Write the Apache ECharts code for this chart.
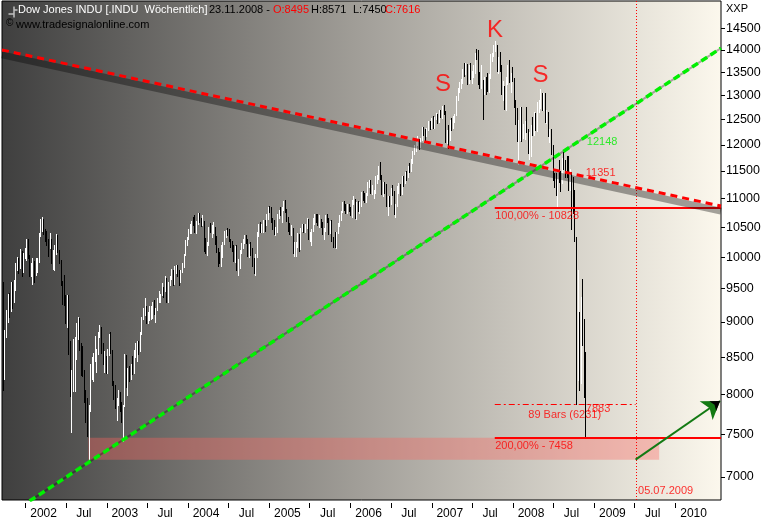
<!DOCTYPE html>
<html><head><meta charset="utf-8">
<script src="https://cdn.jsdelivr.net/npm/echarts@6/dist/echarts.min.js"></script>
<style>html,body{margin:0;padding:0;background:#fff}#c{width:769px;height:520px}</style>
</head><body><div id="c"></div><script>
// ---------------- DATA ----------------
const weeks = [
'2001-09-21','2001-09-28','2001-10-05','2001-10-12','2001-10-19','2001-10-26','2001-11-02','2001-11-09','2001-11-16','2001-11-23','2001-11-30','2001-12-07','2001-12-14','2001-12-21','2001-12-28',
'2002-01-04','2002-01-11','2002-01-18','2002-01-25','2002-02-01','2002-02-08','2002-02-15','2002-02-22','2002-03-01','2002-03-08','2002-03-15','2002-03-22','2002-03-29','2002-04-05','2002-04-12','2002-04-19','2002-04-26','2002-05-03','2002-05-10','2002-05-17','2002-05-24','2002-05-31','2002-06-07','2002-06-14','2002-06-21','2002-06-28','2002-07-05','2002-07-12','2002-07-19','2002-07-26','2002-08-02','2002-08-09','2002-08-16','2002-08-23','2002-08-30','2002-09-06','2002-09-13','2002-09-20','2002-09-27','2002-10-04','2002-10-11','2002-10-18','2002-10-25','2002-11-01','2002-11-08','2002-11-15','2002-11-22','2002-11-29','2002-12-06','2002-12-13','2002-12-20','2002-12-27',
'2003-01-03','2003-01-10','2003-01-17','2003-01-24','2003-01-31','2003-02-07','2003-02-14','2003-02-21','2003-02-28','2003-03-07','2003-03-14','2003-03-21','2003-03-28','2003-04-04','2003-04-11','2003-04-18','2003-04-25','2003-05-02','2003-05-09','2003-05-16','2003-05-23','2003-05-30','2003-06-06','2003-06-13','2003-06-20','2003-06-27','2003-07-04','2003-07-11','2003-07-18','2003-07-25','2003-08-01','2003-08-08','2003-08-15','2003-08-22','2003-08-29','2003-09-05','2003-09-12','2003-09-19','2003-09-26','2003-10-03','2003-10-10','2003-10-17','2003-10-24','2003-10-31','2003-11-07','2003-11-14','2003-11-21','2003-11-28','2003-12-05','2003-12-12','2003-12-19','2003-12-26',
'2004-01-02','2004-01-09','2004-01-16','2004-01-23','2004-01-30','2004-02-06','2004-02-13','2004-02-20','2004-02-27','2004-03-05','2004-03-12','2004-03-19','2004-03-26','2004-04-02','2004-04-09','2004-04-16','2004-04-23','2004-04-30','2004-05-07','2004-05-14','2004-05-21','2004-05-28','2004-06-04','2004-06-11','2004-06-18','2004-06-25','2004-07-02','2004-07-09','2004-07-16','2004-07-23','2004-07-30','2004-08-06','2004-08-13','2004-08-20','2004-08-27','2004-09-03','2004-09-10','2004-09-17','2004-09-24','2004-10-01','2004-10-08','2004-10-15','2004-10-22','2004-10-29','2004-11-05','2004-11-12','2004-11-19','2004-11-26','2004-12-03','2004-12-10','2004-12-17','2004-12-24','2004-12-31',
'2005-01-07','2005-01-14','2005-01-21','2005-01-28','2005-02-04','2005-02-11','2005-02-18','2005-02-25','2005-03-04','2005-03-11','2005-03-18','2005-03-25','2005-04-01','2005-04-08','2005-04-15','2005-04-22','2005-04-29','2005-05-06','2005-05-13','2005-05-20','2005-05-27','2005-06-03','2005-06-10','2005-06-17','2005-06-24','2005-07-01','2005-07-08','2005-07-15','2005-07-22','2005-07-29','2005-08-05','2005-08-12','2005-08-19','2005-08-26','2005-09-02','2005-09-09','2005-09-16','2005-09-23','2005-09-30','2005-10-07','2005-10-14','2005-10-21','2005-10-28','2005-11-04','2005-11-11','2005-11-18','2005-11-25','2005-12-02','2005-12-09','2005-12-16','2005-12-23','2005-12-30',
'2006-01-06','2006-01-13','2006-01-20','2006-01-27','2006-02-03','2006-02-10','2006-02-17','2006-02-24','2006-03-03','2006-03-10','2006-03-17','2006-03-24','2006-03-31','2006-04-07','2006-04-14','2006-04-21','2006-04-28','2006-05-05','2006-05-12','2006-05-19','2006-05-26','2006-06-02','2006-06-09','2006-06-16','2006-06-23','2006-06-30','2006-07-07','2006-07-14','2006-07-21','2006-07-28','2006-08-04','2006-08-11','2006-08-18','2006-08-25','2006-09-01','2006-09-08','2006-09-15','2006-09-22','2006-09-29','2006-10-06','2006-10-13','2006-10-20','2006-10-27','2006-11-03','2006-11-10','2006-11-17','2006-11-24','2006-12-01','2006-12-08','2006-12-15','2006-12-22','2006-12-29',
'2007-01-05','2007-01-12','2007-01-19','2007-01-26','2007-02-02','2007-02-09','2007-02-16','2007-02-23','2007-03-02','2007-03-09','2007-03-16','2007-03-23','2007-03-30','2007-04-06','2007-04-13','2007-04-20','2007-04-27','2007-05-04','2007-05-11','2007-05-18','2007-05-25','2007-06-01','2007-06-08','2007-06-15','2007-06-22','2007-06-29','2007-07-06','2007-07-13','2007-07-20','2007-07-27','2007-08-03','2007-08-10','2007-08-17','2007-08-24','2007-08-31','2007-09-07','2007-09-14','2007-09-21','2007-09-28','2007-10-05','2007-10-12','2007-10-19','2007-10-26','2007-11-02','2007-11-09','2007-11-16','2007-11-23','2007-11-30','2007-12-07','2007-12-14','2007-12-21','2007-12-28',
'2008-01-04','2008-01-11','2008-01-18','2008-01-25','2008-02-01','2008-02-08','2008-02-15','2008-02-22','2008-02-29','2008-03-07','2008-03-14','2008-03-21','2008-03-28','2008-04-04','2008-04-11','2008-04-18','2008-04-25','2008-05-02','2008-05-09','2008-05-16','2008-05-23','2008-05-30','2008-06-06','2008-06-13','2008-06-20','2008-06-27','2008-07-04','2008-07-11','2008-07-18','2008-07-25','2008-08-01','2008-08-08','2008-08-15','2008-08-22','2008-08-29','2008-09-05','2008-09-12','2008-09-19','2008-09-26','2008-10-03','2008-10-10','2008-10-17','2008-10-24','2008-10-31','2008-11-07','2008-11-14','2008-11-21'
];
const opens = [
9605,8236,8848,9120,9344,9205,9545,9324,9608,9867,9960,9851,10049,9811,10035,
10136,10259,10023,9771,9840,9907,9744,9904,9968,10368,10572,10608,10427,10404,10271,10190,10257,9910,10006,10110,10353,10105,9925,9589,9474,9253,9243,9380,8684,8019,8264,8313,8745,8778,9053,8664,8428,8312,7986,7701,7528,7850,8322,8444,8517,8537,8579,8805,8896,8645,8433,8511,
8303,8601,8785,8586,8131,8053,7864,7908,8018,7891,7740,7859,8522,8145,8277,8221,8337,8306,8582,8604,8713,8601,8850,9062,9117,9200,9011,9070,9119,9189,9285,9153,9191,9321,9348,9416,9503,9471,9645,9313,9572,9674,9721,9583,9801,9810,9768,9629,9782,9863,10042,10278,
10305,10409,10458,10600,10568,10488,10593,10628,10620,10584,10596,10240,10186,10213,10470,10442,10452,10472,10226,10118,10012,9967,10188,10242,10410,10416,10372,10283,10214,10140,9962,10140,9815,9825,10110,10195,10260,10314,10284,10047,10192,10055,9933,9758,10027,10387,10539,10456,10522,10592,10543,10649,10828,
10783,10603,10558,10393,10427,10716,10796,10785,10841,10941,10774,10630,10442,10404,10461,10088,10157,10193,10345,10140,10471,10542,10460,10512,10623,10297,10303,10449,10640,10651,10641,10558,10600,10559,10397,10447,10678,10641,10419,10569,10292,10287,10215,10402,10530,10686,10766,10931,10877,10778,10875,10833,
10718,10959,10960,10667,10907,10793,10919,11115,11061,11021,11076,11279,11280,11109,11120,11137,11347,11367,11577,11380,11144,11278,11247,10891,11014,10989,11150,11091,10739,10868,11219,11240,11088,11381,11284,11464,11392,11560,11508,11679,11850,11961,12002,12090,11987,12108,12343,12280,12194,12307,12445,12343,
12463,12398,12556,12565,12487,12653,12580,12768,12647,12114,12276,12110,12481,12354,12560,12612,12961,13120,13264,13326,13556,13507,13668,13424,13639,13360,13409,13611,13907,13851,13266,13182,13240,13079,13379,13358,13113,13443,13821,13896,14066,14093,13522,13807,13595,13043,13176,12980,13372,13625,13339,13450,
13366,12800,12606,12099,12207,12743,12183,12348,12381,12266,11894,11951,12361,12216,12610,12325,12849,12891,13058,12745,12986,12480,12638,12210,12307,11843,11346,11288,11100,11496,11371,11326,11734,11659,11628,11543,11220,11421,11388,11143,10325,8451,8852,8378,9325,8943,8495
];
const highs = [
9605,8880,9180,9420,9430,9600,9600,9640,9900,10000,9990,10140,10100,10060,10150,
10290,10300,10040,9900,9980,9930,9990,9990,10400,10640,10673,10640,10460,10440,10300,10400,10300,10120,10200,10380,10360,10120,9960,9620,9720,9400,9400,9400,8730,8330,8760,8780,8990,9080,9060,8700,8650,8320,8060,7950,7860,8400,8500,8560,8800,8620,8850,8950,8920,8700,8580,8520,
8610,8820,8850,8600,8180,8130,7960,8060,8030,7910,7870,8540,8530,8350,8380,8400,8510,8600,8700,8720,8730,8860,9080,9200,9350,9230,9150,9240,9230,9300,9330,9200,9350,9470,9420,9590,9520,9690,9660,9600,9700,9810,9800,9850,9870,9880,9790,9790,9900,10050,10280,10340,
10460,10560,10610,10680,10700,10600,10740,10750,10660,10700,10600,10320,10240,10500,10570,10530,10580,10500,10350,10150,10080,10200,10250,10440,10450,10480,10460,10300,10270,10200,10180,10200,9970,10120,10230,10300,10360,10360,10300,10210,10240,10150,9990,10050,10410,10560,10580,10560,10620,10620,10720,10850,10870,
10850,10660,10620,10500,10730,10800,10840,10850,10960,10980,10810,10680,10570,10530,10490,10250,10240,10400,10390,10490,10560,10560,10560,10650,10640,10420,10470,10660,10720,10720,10720,10700,10630,10580,10480,10700,10720,10660,10600,10620,10330,10420,10420,10570,10700,10780,10940,10960,10900,10900,10900,10850,
10980,11050,10990,10930,10960,10930,11120,11140,11100,11090,11290,11340,11330,11240,11150,11400,11420,11600,11670,11420,11300,11300,11260,11040,11050,11190,11240,11130,10900,11230,11270,11260,11400,11400,11480,11500,11600,11650,11730,11880,11990,12050,12170,12110,12140,12360,12350,12310,12340,12480,12470,12530,
12580,12560,12640,12620,12690,12700,12790,12800,12680,12300,12400,12500,12540,12570,12620,12980,13160,13280,13350,13570,13700,13700,13690,13660,13700,13530,13650,13920,14020,14000,13500,13660,13340,13400,13400,13480,13460,13910,13940,14100,14198,14120,13830,13950,13670,13320,13200,13400,13650,13780,13480,13620,
13370,12900,12730,12500,12770,12750,12420,12470,12760,12320,12250,12400,12550,12660,12630,12860,12900,13136,13060,13050,13060,12700,12660,12320,12320,12000,11460,11460,11520,11700,11500,11740,11870,11700,11790,11790,11530,11480,11390,11143,10335,9794,9140,9380,9654,9040,8571
];
const lows = [
8062,8200,8790,9000,9080,9160,9200,9290,9480,9800,9750,9830,9700,9760,9980,
9960,9990,9700,9700,9580,9600,9720,9760,9920,10350,10440,10380,10260,10200,10020,10150,9900,9810,9800,10050,10090,9900,9560,9260,9250,8990,8930,8550,7980,7532,8040,8040,8480,8750,8600,8260,8250,7900,7650,7480,7197,7790,8200,8180,8450,8300,8550,8780,8560,8400,8300,8290,
8280,8530,8560,8120,7940,7830,7670,7870,7790,7650,7416,7850,8100,7990,8180,8200,8270,8290,8500,8450,8540,8580,8820,9040,9110,8980,8980,9030,9040,9060,9120,9000,9180,9300,9290,9410,9370,9460,9300,9300,9550,9650,9550,9580,9740,9690,9560,9600,9760,9840,10030,10200,
10290,10400,10400,10530,10420,10400,10560,10580,10510,10540,10100,10070,10030,10200,10420,10330,10400,10220,10080,9850,9900,9850,10000,10220,10330,10370,10270,10160,10100,9930,9920,9800,9710,9820,10070,10150,10230,10230,10020,10000,10030,9850,9740,9708,10000,10350,10420,10420,10410,10440,10530,10640,10760,
10580,10460,10380,10360,10420,10660,10700,10580,10790,10760,10600,10430,10380,10370,10070,10010,10010,10170,10100,10130,10440,10420,10420,10480,10290,10260,10200,10440,10560,10580,10540,10500,10500,10380,10300,10440,10590,10380,10400,10270,10170,10160,10150,10400,10510,10620,10760,10800,10740,10750,10780,10700,
10680,10900,10660,10640,10780,10750,10870,10980,10940,10930,11060,11200,11100,11080,11000,11100,11280,11350,11360,11080,11040,11100,10870,10700,10870,10900,11060,10730,10680,10860,11100,11060,11080,11220,11270,11330,11390,11480,11500,11660,11820,11880,11990,11920,11960,12100,12200,12050,12180,12290,12320,12330,
12330,12340,12510,12440,12460,12560,12540,12620,12050,12040,11940,12100,12290,12340,12460,12600,12900,13070,13150,13260,13420,13470,13250,13260,13350,13260,13400,13490,13800,13240,13150,13160,12518,13040,13030,13090,13080,13380,13740,13860,13980,13520,13480,13520,13030,12900,12720,12700,13250,13290,13070,13300,
12770,12420,12070,11634,12100,12080,12130,12120,12260,11850,11731,11780,12200,12200,12300,12280,12660,12740,12690,12690,12460,12440,12180,12060,11830,11330,11210,11060,10827,11300,11130,11280,11530,11380,11380,11150,11160,10460,10750,10266,7883,8197,8060,8150,8670,7965,7450
];
const closes = [
8236,8848,9120,9344,9205,9545,9324,9608,9867,9960,9851,10049,9811,10035,10136,
10259,10023,9771,9840,9907,9744,9904,9968,10368,10572,10608,10427,10404,10271,10190,10257,9910,10006,10110,10353,10105,9925,9589,9474,9253,9243,9380,8684,8019,8264,8313,8745,8778,9053,8664,8428,8312,7986,7701,7528,7850,8322,8444,8517,8537,8579,8805,8896,8645,8433,8511,8303,
8601,8785,8586,8131,8053,7864,7908,8018,7891,7740,7859,8522,8145,8277,8221,8337,8306,8582,8604,8713,8601,8850,9062,9117,9200,9011,9070,9119,9189,9285,9153,9191,9321,9348,9416,9503,9471,9645,9313,9572,9674,9721,9583,9801,9810,9768,9629,9782,9863,10042,10278,10305,
10409,10458,10600,10568,10488,10593,10628,10620,10584,10596,10240,10186,10213,10470,10442,10452,10472,10226,10118,10012,9967,10188,10242,10410,10416,10372,10283,10214,10140,9962,10140,9815,9825,10110,10195,10260,10314,10284,10047,10192,10055,9933,9758,10027,10387,10539,10456,10522,10592,10543,10649,10828,10783,
10603,10558,10393,10427,10716,10796,10785,10841,10941,10774,10630,10442,10404,10461,10088,10157,10193,10345,10140,10471,10542,10460,10512,10623,10297,10303,10449,10640,10651,10641,10558,10600,10559,10397,10447,10678,10641,10419,10569,10292,10287,10215,10402,10530,10686,10766,10931,10877,10778,10875,10833,10718,
10959,10960,10667,10907,10793,10919,11115,11061,11021,11076,11279,11280,11109,11120,11137,11347,11367,11577,11380,11144,11278,11247,10891,11014,10989,11150,11091,10739,10868,11219,11240,11088,11381,11284,11464,11392,11560,11508,11679,11850,11961,12002,12090,11987,12108,12343,12280,12194,12307,12445,12343,12463,
12398,12556,12565,12487,12653,12580,12768,12647,12114,12276,12110,12481,12354,12560,12612,12961,13120,13264,13326,13556,13507,13668,13424,13639,13360,13409,13611,13907,13851,13266,13182,13240,13079,13379,13358,13113,13443,13821,13896,14066,14093,13522,13807,13595,13043,13176,12980,13372,13625,13339,13450,13366,
12800,12606,12099,12207,12743,12183,12348,12381,12266,11894,11951,12361,12216,12610,12325,12849,12891,13058,12745,12986,12480,12638,12210,12307,11843,11346,11288,11100,11496,11371,11326,11734,11659,11628,11543,11220,11421,11388,11143,10325,8451,8852,8378,9325,8943,8497,7616
];

// axes
const yTicks = [7000,7500,8000,8500,9000,9500,10000,10500,11000,11500,12000,12500,13000,13500,14000,14500];
const xTickDates = ['2002-01-01','2002-07-01','2003-01-01','2003-07-01','2004-01-01','2004-07-01','2005-01-01','2005-07-01','2006-01-01','2006-07-01','2007-01-01','2007-07-01','2008-01-01','2008-07-01','2009-01-01','2009-07-01','2010-01-01'];
const xTickLabels = ['2002','Jul','2003','Jul','2004','Jul','2005','Jul','2006','Jul','2007','Jul','2008','Jul','2009','Jul','2010'];
const axisStart = '2001-09-17', axisEnd = '2010-07-24';
const yMin = 6741, yMax = 15156;

// drawings
const grayBand   = [['2001-09-17', 13886], ['2010-07-24', 10775]];
const redTrend   = [['2001-09-17', 13999], ['2010-07-24', 10864]];
const greenTrend = [['2001-09-17', 6535],  ['2010-07-24', 14040]];
const peakDate = '2007-10-11';
const fibValues = [10828, 7458];
const fibTexts = ['100,00% - 10828', '200,00% - 7458'];
const cycleDate = '2009-07-05', cycleText = '05.07.2009';
const cycleLow = 7883, cycleLowText = '7883', barsText = '89 Bars (6231)';
const zoneStart = '2002-10-10', zoneEnd = '2009-10-19', zoneLow = 7197, zoneHigh = 7458;
const arrowFrom = ['2009-07-05', 7197], arrowTo = ['2010-07-20', 7917];
const lastDate = '2008-11-21';
const trendTexts = ['12148', '11351'];
const trendValues = [12148, 11351];
const patternTexts = ['S', 'K', 'S'];
const patternDates = ['2007-02-23', '2007-10-14', '2008-05-06'];
const patternValues = [13221, 14448, 13421];
const headerParts = [
  ['Dow Jones INDU [.INDU  W\u00f6chentlich]', 18, '#ffffff'],
  ['23.11.2008 -', 209, '#000000'],
  ['O:8495', 273, '#ff0000'],
  ['H:8571', 311, '#000000'],
  ['L:7450', 353, '#000000'],
  ['C:7616', 385, '#ff0000']
];
const sourceText = 'www.tradesignalonline.com';

// ---------------- CHART ----------------
const RED = '#ff0000';
const FONT = '"Liberation Sans", Arial, sans-serif';
const chart = echarts.init(document.getElementById('c'), null, {renderer: 'canvas'});
const ts = d => Date.parse(d + 'T00:00:00Z');
const pt = p => [ts(p[0]), p[1]];
const xLabelMap = {};
xTickDates.forEach((d, i) => { xLabelMap[ts(d)] = xTickLabels[i]; });

const ohlc = weeks.map((d, i) => [ts(d), opens[i], highs[i], lows[i], closes[i]]);
const midBars = (ts(peakDate) + ts(cycleDate)) / 2;

const notes = [];
patternTexts.forEach((t, i) => notes.push({value: [ts(patternDates[i]), patternValues[i]], label: {formatter: t, fontSize: 24, color: RED, align: 'center', verticalAlign: 'middle'}}));
fibTexts.forEach((t, i) => notes.push({value: [ts(peakDate), fibValues[i]], label: {formatter: t, fontSize: 11, color: RED, align: 'left', verticalAlign: 'top', offset: [1, 3]}}));
notes.push({value: [ts(lastDate), trendValues[0]], label: {formatter: trendTexts[0], fontSize: 11, color: '#00ee00', align: 'left', verticalAlign: 'top', offset: [2, 0]}});
notes.push({value: [ts(lastDate), trendValues[1]], label: {formatter: trendTexts[1], fontSize: 11, color: RED, align: 'left', verticalAlign: 'bottom', offset: [1, 0]}});
notes.push({value: [ts(lastDate), cycleLow], label: {formatter: cycleLowText, fontSize: 11, color: RED, align: 'left', verticalAlign: 'top', offset: [1, 0]}});
notes.push({value: [midBars, cycleLow], label: {formatter: barsText, fontSize: 11, color: RED, align: 'center', verticalAlign: 'top', offset: [0, 6]}});
notes.push({value: [ts(cycleDate), yMin], label: {formatter: cycleText, fontSize: 11, color: RED, align: 'left', verticalAlign: 'bottom', offset: [3, -3]}});

const graphics = [];
headerParts.forEach(p => graphics.push({type: 'text', left: p[1], top: 4, style: {text: p[0], fill: p[2], font: '11px ' + FONT}}));
graphics.push({type: 'text', left: 6, top: 18, style: {text: '\u00a9', fill: '#000', font: '10px ' + FONT}});
graphics.push({type: 'text', left: 16, top: 19, style: {text: sourceText, fill: '#000', font: '11px ' + FONT}});
graphics.push({type: 'text', left: 726, top: 3, style: {text: 'XXP', fill: '#000', font: '11px ' + FONT}});
graphics.push({type: 'group', left: 6, top: 4, children: [
  {type: 'line', shape: {x1: 5.5, y1: 0, x2: 5.5, y2: 11}, style: {stroke: '#fff', lineWidth: 1}},
  {type: 'line', shape: {x1: 0, y1: 7.5, x2: 5, y2: 7.5}, style: {stroke: '#fff', lineWidth: 1}},
  {type: 'line', shape: {x1: 6, y1: 3.5, x2: 9, y2: 3.5}, style: {stroke: '#fff', lineWidth: 1}}
]});

// crisp horizontal / vertical guide lines through the axes' own scales
function guide(name, a, b, width, dash) {
  return {
    type: 'custom', name: name, clip: true, silent: true,
    data: [[a[0], a[1], b[0], b[1]]],
    encode: {x: [0, 2], y: [1, 3]},
    renderItem: (params, api) => {
      const p1 = api.coord([api.value(0), api.value(1)]);
      const p2 = api.coord([api.value(2), api.value(3)]);
      const half = width % 2 ? 0.5 : 0;
      let x1 = p1[0], y1 = p1[1], x2 = p2[0], y2 = p2[1];
      if (Math.abs(y1 - y2) < 0.01) { y1 = y2 = Math.round(y1) + half; }
      if (Math.abs(x1 - x2) < 0.01) { x1 = x2 = Math.round(x1) + half; }
      return {type: 'line', shape: {x1: x1, y1: y1, x2: x2, y2: y2},
        style: {stroke: RED, lineWidth: width, lineDash: dash || null}};
    }
  };
}

const option = {
  animation: false,
  backgroundColor: '#ffffff',
  textStyle: {fontFamily: FONT},
  grid: {left: 2, right: 48, top: 1, bottom: 19, show: true, borderColor: '#000', borderWidth: 1,
    backgroundColor: {type: 'linear', x: 0, y: 0, x2: 1, y2: 0, colorStops: [
      {offset: 0, color: '#3f3f3f'}, {offset: 0.5, color: '#a29f99'}, {offset: 1, color: '#fcf8ed'}]}},
  xAxis: {
    type: 'value', min: ts(axisStart), max: ts(axisEnd), offset: 3, scale: true,
    splitLine: {show: false}, axisLine: {show: false},
    axisTick: {show: true, length: 5, lineStyle: {color: '#000'}, customValues: xTickDates.map(ts)},
    axisLabel: {show: true, customValues: xTickDates.map(ts), color: '#000', fontSize: 12, fontFamily: FONT,
      margin: 5, padding: [0, 0, 0, 36], align: 'center', hideOverlap: false,
      formatter: v => xLabelMap[v] || ''}
  },
  yAxis: {
    type: 'log', position: 'right', min: yMin, max: yMax, logBase: 10,
    splitLine: {show: false}, axisLine: {show: false},
    axisTick: {show: true, length: 4, lineStyle: {color: '#000'}, customValues: yTicks},
    axisLabel: {show: true, customValues: yTicks, color: '#000', fontSize: 12.5, fontFamily: FONT, margin: 5,
      formatter: v => String(Math.round(v))}
  },
  graphic: graphics,
  series: [
    {type: 'line', name: 'zone', data: [], silent: true,
      markArea: {silent: true, itemStyle: {color: 'rgba(255,100,95,0.36)'},
        data: [[{coord: [ts(zoneStart), zoneLow]}, {coord: [ts(zoneEnd), zoneHigh]}]]}},
    {type: 'line', name: 'band', data: grayBand.map(pt), symbol: 'none', silent: true,
      lineStyle: {color: 'rgba(0,0,0,0.35)', width: 7}},
    {type: 'line', name: 'greenShadow', data: greenTrend.map(pt), symbol: 'none', silent: true,
      lineStyle: {color: 'rgba(0,0,0,0.3)', width: 2}},
    {type: 'custom', name: 'INDU', data: ohlc, clip: true,
      encode: {x: 0, y: [1, 2, 3, 4]},
      renderItem: (params, api) => {
        const t = api.value(0), o = api.value(1), h = api.value(2), l = api.value(3), c = api.value(4);
        const top = api.coord([t, Math.max(h, o, c)]);
        const bot = api.coord([t, Math.min(l, o, c)]);
        const x = Math.round(top[0]) + 0.5;
        return {type: 'line', shape: {x1: x, y1: Math.round(top[1]), x2: x, y2: Math.round(bot[1]) + 1},
          style: {stroke: c >= o ? '#ffffff' : '#000000', lineWidth: 1}};
      }},
    guide('fib100', [ts(peakDate), fibValues[0]], [ts(axisEnd), fibValues[0]], 2),
    guide('fib200', [ts(peakDate), fibValues[1]], [ts(axisEnd), fibValues[1]], 2),
    guide('cycleLow', [ts(peakDate), cycleLow], [ts(cycleDate), cycleLow], 1, [6, 3, 2, 3]),
    guide('cycleDate', [ts(cycleDate), yMin], [ts(cycleDate), yMax], 1, [1, 2]),
    {type: 'line', name: 'redTrend', data: redTrend.map(pt), symbol: 'none', silent: true,
      lineStyle: {color: RED, width: 3, type: [7, 5]}},
    {type: 'line', name: 'greenTrend', data: greenTrend.map(pt), symbol: 'none', silent: true,
      lineStyle: {color: '#00f000', width: 3.5, type: [7, 4]}},
    {type: 'line', name: 'arrow', data: [], silent: true, color: '#137a13',
      markLine: {silent: true, symbol: ['none', 'arrow'], symbolSize: 17, animation: false, label: {show: false},
        lineStyle: {color: '#137a13', width: 2, type: 'solid', opacity: 1},
        data: [[{coord: pt(arrowFrom)}, {coord: pt(arrowTo)}]]}},
    {type: 'line', name: 'arrowCore', data: [], silent: true, color: '#000',
      markLine: {silent: true, symbol: ['none', 'arrow'], symbolSize: 9, animation: false, label: {show: false},
        lineStyle: {color: '#000', width: 0.01, type: 'solid', opacity: 1},
        data: [[{coord: pt(arrowFrom)}, {coord: pt(arrowTo)}]]}},
    {type: 'scatter', name: 'notes', data: notes, symbol: 'circle', symbolSize: 1, silent: true,
      itemStyle: {color: 'rgba(0,0,0,0)'},
      label: {show: true, position: [0, 0], fontFamily: FONT}}
  ]
};
chart.setOption(option);
</script></body></html>
